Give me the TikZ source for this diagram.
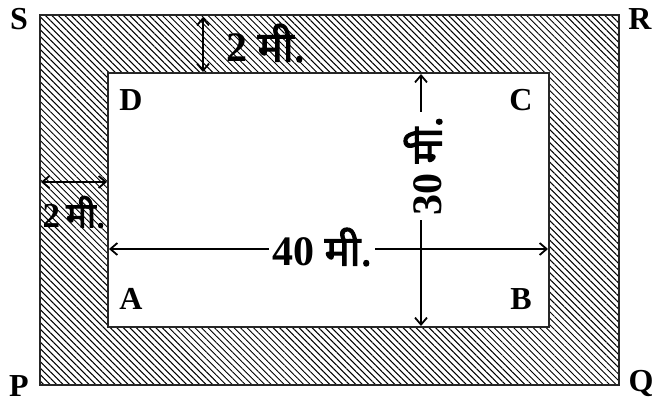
\documentclass[tikz,border=0pt]{standalone}
\usepackage{fontspec}
\setmainfont{Liberation Serif}
\newfontfamily\hindi[Script=Devanagari, FakeBold=2.5]{Noto Sans}
\usetikzlibrary{arrows.meta,patterns.meta}
\begin{document}
\begin{tikzpicture}[x=1pt,y=-1pt,
  corner/.style={font=\fontsize{32}{36}\selectfont\bfseries, inner sep=0pt},
  dimlabel/.style={font=\fontsize{42}{46}\selectfont\bfseries, inner sep=2pt},
  smalllabel/.style={font=\fontsize{35}{38}\selectfont\bfseries, inner sep=1pt},
  dimarrow/.style={line width=1.8pt, {Straight Barb[length=7pt,width=12pt]}-{Straight Barb[length=7pt,width=12pt]}},
  border/.style={line width=2.6pt, draw=black!85}
]
\useasboundingbox (0,0) rectangle (667,406);
% corners
\coordinate (PS) at (40,15);
\coordinate (PQ) at (619,385);
\coordinate (ID) at (108,73);
\coordinate (IB) at (549,327);
% hatched band
\fill[pattern={Lines[angle=-45,distance=4.6pt,line width=1pt]}, pattern color=black] (PS) rectangle (PQ);
\draw[border] (PS) rectangle (PQ);
\fill[white] (ID) rectangle (IB);
\draw[border] (ID) rectangle (IB);
% corner labels
\node[corner] (S) at (19,19) {S};
\node[corner] (R) at (640,19) {R};
\node[corner] (P) at (19,386) {P};
\node[corner] (Q) at (641,383) {Q};
\node[corner] (D) at (131,100) {D};
\node[corner] (C) at (521,100) {C};
\node[corner] (A) at (131,299) {A};
\node[corner] (B) at (521,299) {B};
% top 2 m
\coordinate (t1) at (203,17);
\coordinate (t2) at (203,72);
\draw[dimarrow] (t1) -- (t2);
\node[dimlabel, anchor=west] (top2) at (224,43) {2 {\hindi मी.}};
% left 2 m
\coordinate (l1) at (41,182);
\coordinate (l2) at (107,182);
\draw[dimarrow] (l1) -- (l2);
\node[smalllabel] (left2) at (74,212) {2\,{\hindi मी.}};
% 40 m
\coordinate (h1) at (109,249);
\coordinate (h2) at (548,249);
\draw[dimarrow] (h1) -- (h2);
% 30 m
\coordinate (v1) at (421,74);
\coordinate (v2) at (421,326);
\draw[dimarrow] (v1) -- (v2);
\node[dimlabel, fill=white, inner sep=3pt] (forty) at (322,247) {40 {\hindi मी.}};
\node[dimlabel, fill=white, rotate=90, inner sep=4pt] (thirty) at (423,166) {30 {\hindi मी.}};
\end{tikzpicture}
\end{document}
